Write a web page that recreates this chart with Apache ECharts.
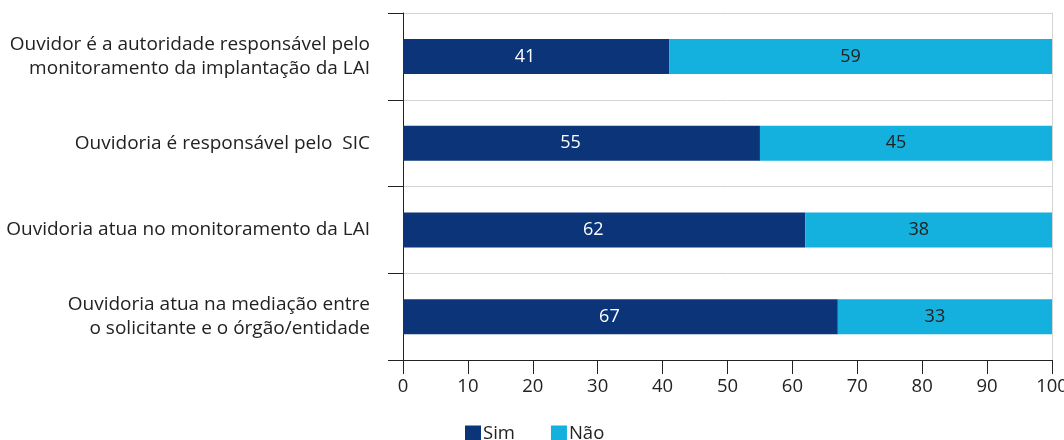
<!DOCTYPE html>
<html>
<head>
<meta charset="utf-8">
<script src="https://cdn.jsdelivr.net/npm/echarts@6/dist/echarts.min.js"></script>
<style>
  html, body { margin: 0; padding: 0; background: #fff; }
  #chart { width: 1064px; height: 440px; }
</style>
</head>
<body>
<div id="chart"></div>
<script>
const categories = [
  'Ouvidor é a autoridade responsável pelo\nmonitoramento da implantação da LAI',
  'Ouvidoria é responsável pelo  SIC',
  'Ouvidoria atua no monitoramento da LAI',
  'Ouvidoria atua na mediação entre\no solicitante e o órgão/entidade'
]
const simValues = [41, 55, 62, 67]
const naoValues = [59, 45, 38, 33]
const seriesNames = ['Sim', 'Não']

const font = 'Open Sans'
const textColor = '#222'

const chart = echarts.init(document.getElementById('chart'))

chart.setOption({
  animation: false,
  color: ['#0b3479', '#14b0de'],
  grid: { left: 403, right: 12, top: 13, bottom: 80, outerBoundsMode: 'none', containLabel: false },
  legend: {
    data: seriesNames,
    top: 419,
    left: 460,
    icon: 'rect',
    itemWidth: 16,
    itemHeight: 16,
    itemGap: 36,
    textStyle: { fontFamily: font, fontSize: 18.5, color: textColor, padding: [0, 0, 0, -3] }
  },
  xAxis: {
    type: 'value',
    min: 0,
    max: 100,
    interval: 10,
    axisLine: { show: true, lineStyle: { color: textColor, width: 1 } },
    axisTick: { show: true, length: 14, lineStyle: { color: textColor } },
    axisLabel: { fontFamily: font, fontSize: 18.5, color: textColor, margin: 17 },
    splitLine: { show: false }
  },
  yAxis: [
    {
      type: 'category',
      data: categories,
      inverse: true,
      axisLine: { show: true, lineStyle: { color: textColor, width: 1 } },
      axisTick: { show: true, length: 15, lineStyle: { color: textColor } },
      axisLabel: { fontFamily: font, fontSize: 19, color: textColor, margin: 33, lineHeight: 24, align: 'right' },
      splitLine: { show: true, lineStyle: { color: '#d4d4d4', width: 1 } }
    },
    {
      // right border line of the plot
      type: 'category',
      data: categories,
      inverse: true,
      position: 'right',
      axisLine: { show: true, lineStyle: { color: '#d4d4d4', width: 1 } },
      axisTick: { show: false },
      axisLabel: { show: false },
      splitLine: { show: false }
    }
  ],
  series: [
    {
      name: seriesNames[0],
      type: 'bar',
      stack: 'total',
      barWidth: 35,
      data: simValues,
      label: { show: true, position: 'inside', offset: [-11, 0], color: '#fff', fontFamily: font, fontSize: 18 }
    },
    {
      name: seriesNames[1],
      type: 'bar',
      stack: 'total',
      barWidth: 35,
      data: naoValues,
      label: { show: true, position: 'inside', offset: [-10, 0], color: textColor, fontFamily: font, fontSize: 18 }
    }
  ]
})
</script>
</body>
</html>
